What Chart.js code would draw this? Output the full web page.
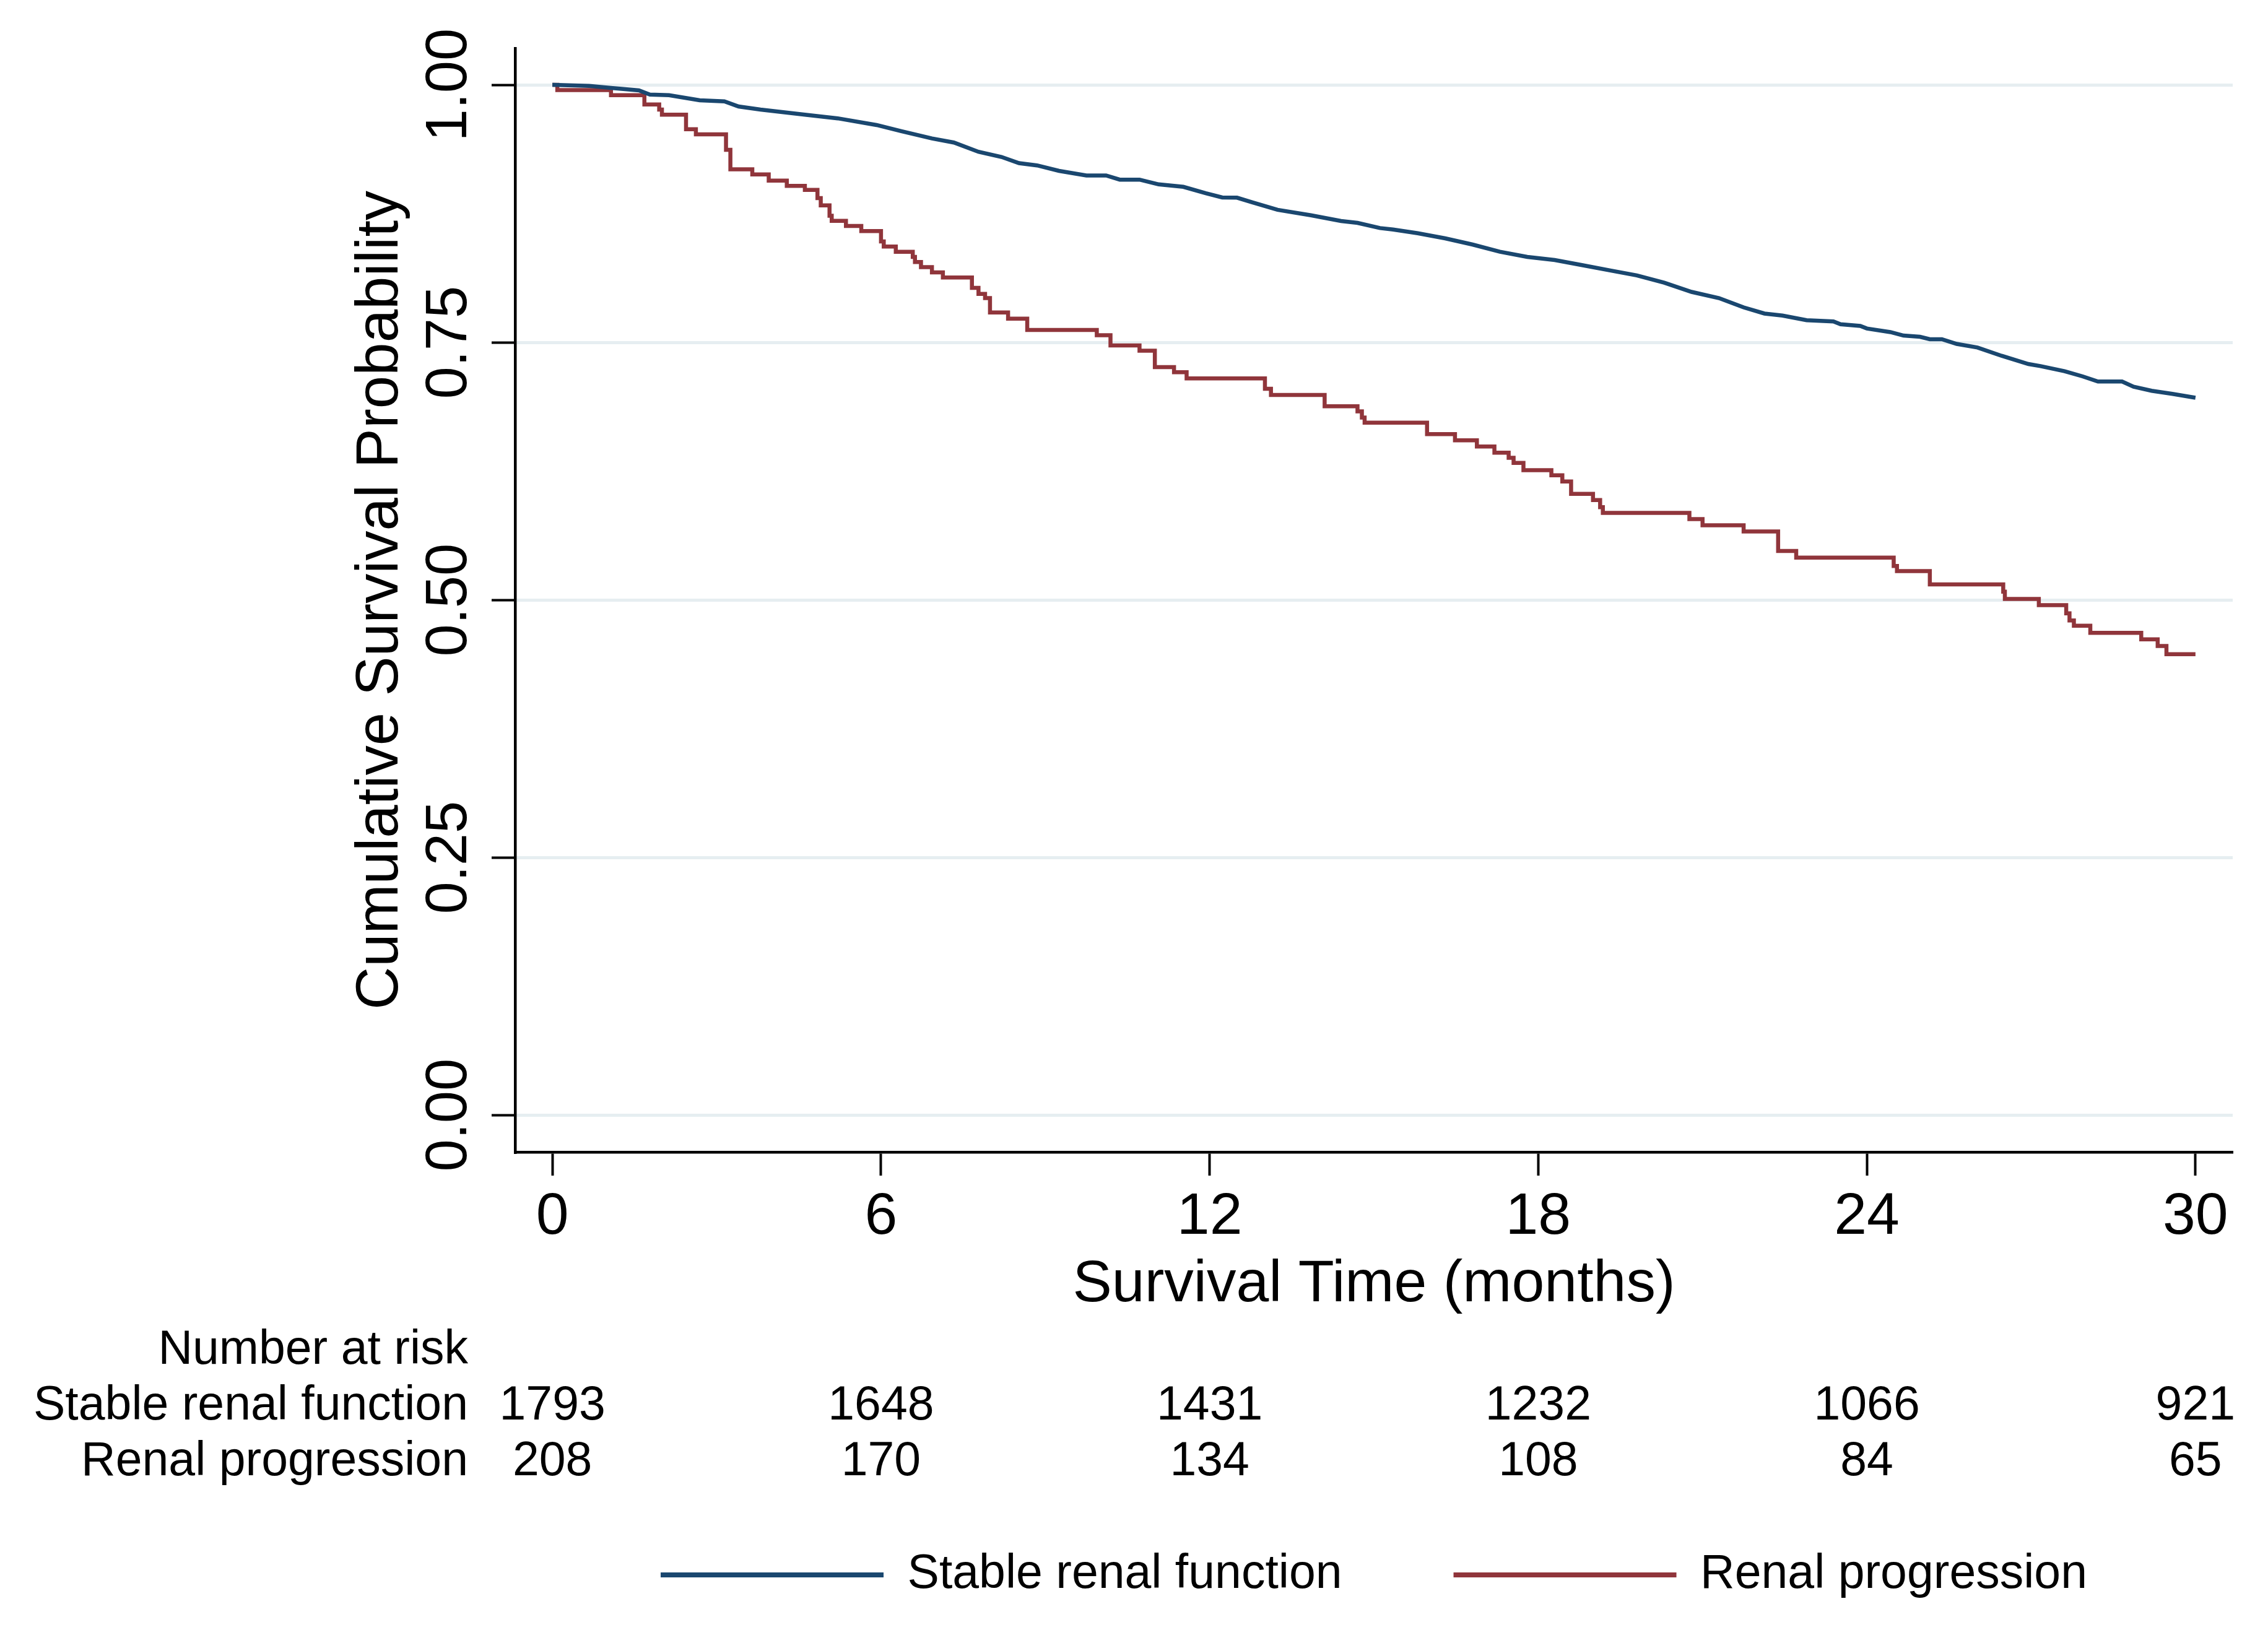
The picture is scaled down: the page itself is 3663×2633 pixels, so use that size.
<!DOCTYPE html>
<html>
<head>
<meta charset="utf-8">
<script src="https://cdn.jsdelivr.net/npm/chart.js@4.4.1/dist/chart.umd.min.js"></script>
<style>
html,body{margin:0;padding:0;background:#ffffff;}
#wrap{width:3663px;height:2633px;}
canvas{display:block;}
</style>
</head>
<body>
<div id="wrap"><canvas id="c" width="3663" height="2633" style="width:3663px;height:2633px"></canvas></div>
<script>
// ---- data ----
const seriesNames = ['Stable renal function', 'Renal progression'];
const timeTicks = [0, 6, 12, 18, 24, 30];
const probTicks = [0, 0.25, 0.5, 0.75, 1];
const probTickLabels = ['0.00', '0.25', '0.50', '0.75', '1.00'];

const stableTime = [0,0.67,1.07,1.58,1.78,2.13,2.69,3.14,3.4,3.8,4.61,5.21,5.92,6.37,6.93,7.33,7.78,8.2,8.52,8.85,9.25,9.75,10.11,10.36,10.72,11.07,11.52,11.93,12.23,12.5,12.78,13.24,13.85,14.4,14.7,15.11,15.35,15.8,16.3,16.8,17.3,17.8,18.3,18.8,19.3,19.8,20.3,20.8,21.3,21.75,22.13,22.46,22.9,23.39,23.52,23.88,24.0,24.43,24.67,24.97,25.15,25.37,25.64,26.02,26.46,26.95,27.17,27.61,27.94,28.22,28.66,28.87,29.2,29.58,30];
const stableSurv = [1.0,0.999,0.997,0.9946,0.9906,0.990,0.985,0.984,0.979,0.976,0.971,0.9675,0.961,0.955,0.948,0.944,0.935,0.930,0.924,0.9218,0.9165,0.912,0.912,0.908,0.908,0.9034,0.901,0.8948,0.8907,0.8905,0.886,0.8787,0.8734,0.8678,0.866,0.861,0.8596,0.856,0.851,0.845,0.838,0.833,0.830,0.825,0.820,0.815,0.808,0.799,0.793,0.784,0.778,0.776,0.7715,0.7704,0.7676,0.766,0.7635,0.760,0.7566,0.7554,0.7531,0.7531,0.7485,0.745,0.737,0.729,0.727,0.722,0.717,0.712,0.712,0.707,0.703,0.700,0.6963];

const progTime = [0,0.09,1.07,1.68,1.95,2.0,2.44,2.62,3.17,3.25,3.65,3.95,4.28,4.61,4.84,4.9,5.06,5.1,5.36,5.64,6.0,6.05,6.27,6.58,6.62,6.73,6.93,7.13,7.66,7.78,7.9,7.99,8.32,8.67,9.94,10.19,10.72,11.0,11.35,11.58,13.01,13.12,14.1,14.7,14.78,14.83,15.97,16.48,16.88,17.2,17.46,17.55,17.73,18.24,18.44,18.6,19.0,19.13,19.18,20.76,21.0,21.75,22.38,22.71,24.49,24.55,25.15,26.49,26.52,27.14,27.64,27.7,27.78,28.08,29.01,29.31,29.47,30.0];
const progSurv = [1.0,0.995,0.990,0.981,0.976,0.971,0.957,0.952,0.937,0.918,0.913,0.907,0.902,0.898,0.890,0.883,0.873,0.868,0.863,0.858,0.848,0.843,0.838,0.833,0.828,0.823,0.818,0.813,0.803,0.797,0.793,0.779,0.773,0.762,0.757,0.747,0.742,0.726,0.721,0.715,0.705,0.699,0.688,0.683,0.677,0.672,0.661,0.655,0.649,0.643,0.638,0.633,0.626,0.621,0.615,0.603,0.597,0.590,0.5845,0.5785,0.5725,0.5665,0.5475,0.541,0.533,0.528,0.515,0.508,0.501,0.495,0.487,0.480,0.475,0.468,0.4617,0.4553,0.4473,0.4473];

const riskStable = [1793, 1648, 1431, 1232, 1066, 921];
const riskProg = [208, 170, 134, 108, 84, 65];

const blue = '#1a476f';
const red = '#90353b';
const FONT = '"Liberation Sans", Arial, Helvetica, sans-serif';

const toPts = (xs, ys) => xs.map((x, i) => ({x: x, y: ys[i]}));

const decor = {
  id: 'decor',
  afterDraw(chart) {
    const ctx = chart.ctx, xs = chart.scales.x, ys = chart.scales.y;
    ctx.save();
    ctx.fillStyle = '#000';
    // rotated y tick labels
    ctx.font = '94px ' + FONT;
    ctx.textAlign = 'center';
    ctx.textBaseline = 'alphabetic';
    probTicks.forEach((v, i) => {
      const py = ys.getPixelForValue(v);
      ctx.save();
      ctx.translate(ys.right - 79, py);
      ctx.rotate(-Math.PI / 2);
      ctx.fillText(probTickLabels[i], 0, 0);
      ctx.restore();
    });
    // number at risk table
    const base = chart.chartArea.bottom;
    const labelRight = ys.right - 76;
    ctx.font = '77px ' + FONT;
    ctx.textAlign = 'right';
    ctx.fillText('Number at risk', labelRight, base + 342);
    ctx.fillText(seriesNames[0], labelRight, base + 432);
    ctx.fillText(seriesNames[1], labelRight, base + 522);
    ctx.textAlign = 'center';
    timeTicks.forEach((t, i) => {
      const px = xs.getPixelForValue(t);
      ctx.fillText(String(riskStable[i]), px, base + 432);
      ctx.fillText(String(riskProg[i]), px, base + 522);
    });
    ctx.restore();
  }
};

new Chart(document.getElementById('c'), {
  type: 'line',
  data: {
    datasets: [
      {
        label: seriesNames[0],
        data: toPts(stableTime, stableSurv),
        borderColor: blue,
        backgroundColor: blue,
        borderWidth: 6.5,
        pointRadius: 0,
        fill: false,
        tension: 0
      },
      {
        label: seriesNames[1],
        data: toPts(progTime, progSurv),
        borderColor: red,
        backgroundColor: red,
        borderWidth: 6.5,
        pointRadius: 0,
        fill: false,
        stepped: 'before'
      }
    ]
  },
  options: {
    responsive: false,
    animation: false,
    devicePixelRatio: 1,
    layout: { padding: { top: 78, left: 0, right: 57, bottom: 40.5 } },
    plugins: {
      tooltip: { enabled: false },
      legend: {
        display: true,
        position: 'bottom',
        fullSize: false,
        labels: {
          boxWidth: 360,
          boxHeight: 8,
          padding: 180,
          color: '#000',
          font: { size: 77, family: FONT },
          generateLabels(chart) {
            return chart.data.datasets.map((d, i) => ({
              text: d.label,
              fillStyle: d.borderColor,
              strokeStyle: d.borderColor,
              lineWidth: 0,
              hidden: false,
              datasetIndex: i,
              fontColor: '#000'
            }));
          }
        }
      }
    },
    scales: {
      x: {
        type: 'linear',
        position: 'bottom',
        min: -0.68,
        max: 30.68,
        afterBuildTicks(s) { s.ticks = timeTicks.map(v => ({ value: v })); },
        afterFit(s) { s.height = 464.5; },
        ticks: {
          color: '#000',
          padding: 11,
          maxRotation: 0,
          autoSkip: false,
          font: { size: 95, family: FONT },
          callback: v => String(v)
        },
        grid: {
          drawOnChartArea: false,
          drawTicks: true,
          tickLength: 38,
          tickWidth: 4,
          tickColor: '#000'
        },
        border: { display: true, color: '#000', width: 4.5 },
        title: {
          display: true,
          text: 'Survival Time (months)',
          color: '#000',
          font: { size: 95, family: FONT },
          padding: { top: 0, bottom: 192.5 }
        }
      },
      y: {
        type: 'linear',
        position: 'left',
        min: -0.036,
        max: 1.0355,
        afterBuildTicks(s) { s.ticks = probTicks.map(v => ({ value: v })); },
        afterFit(s) { s.width = 832; },
        ticks: { display: false },
        grid: {
          color: '#e6eef1',
          lineWidth: 5,
          drawTicks: true,
          tickLength: 38,
          tickWidth: 4,
          tickColor: '#000'
        },
        border: { display: true, color: '#000', width: 4.5 },
        title: {
          display: true,
          text: 'Cumulative Survival Probability',
          color: '#000',
          font: { size: 96, family: FONT },
          padding: { top: 558, bottom: 0 }
        }
      }
    }
  },
  plugins: [decor]
});
</script>
</body>
</html>
